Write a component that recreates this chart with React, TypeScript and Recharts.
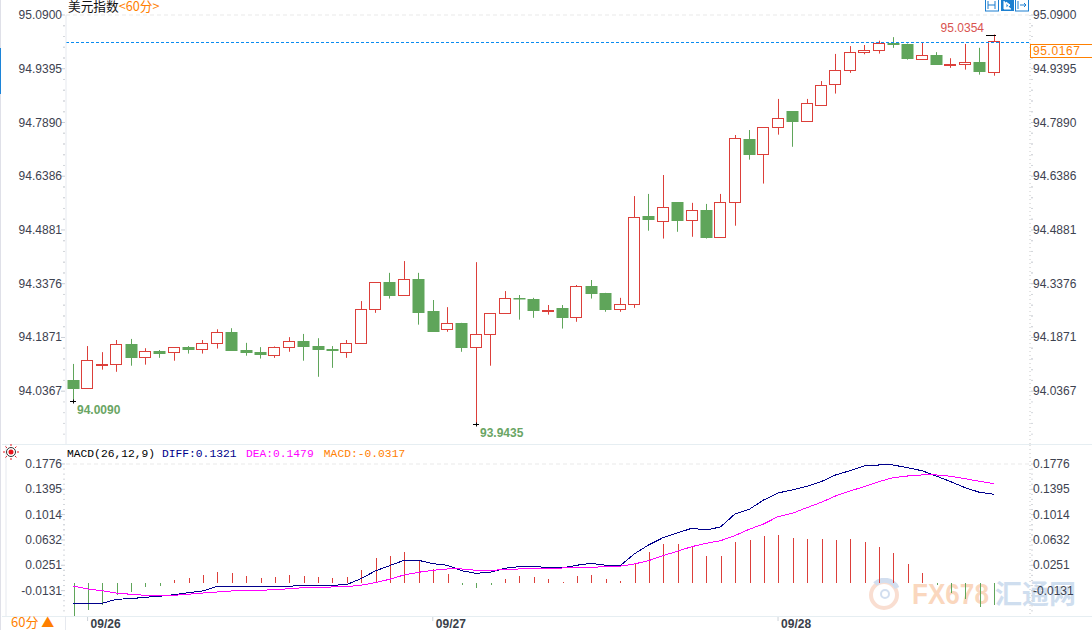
import {
  Bar,
  ComposedChart,
  Line,
  ReferenceDot,
  ReferenceLine,
  XAxis,
  YAxis,
} from "recharts";

const RED = "#dc3f3a";
const GREEN = "#5fa55a";
const ORANGE = "#ff8000";
const TICK_COLOR = "#3d4250";
const SANS = "'Liberation Sans', Arial, sans-serif";
const CJK = "'Noto Sans CJK SC', sans-serif";
const MONO = "'Liberation Mono', monospace";

const opens = [
  94.068, 94.045, 94.112, 94.112, 94.168, 94.132, 94.149, 94.146, 94.16, 94.154,
  94.171, 94.202, 94.152, 94.146, 94.139, 94.16, 94.177, 94.163, 94.155, 94.146,
  94.171, 94.266, 94.342, 94.305, 94.351, 94.261, 94.21, 94.228, 94.16, 94.196,
  94.255, 94.297, 94.295, 94.263, 94.27, 94.244, 94.331, 94.312, 94.266, 94.28,
  94.527, 94.512, 94.566, 94.515, 94.544, 94.468, 94.566, 94.743, 94.7, 94.776,
  94.821, 94.792, 94.837, 94.896, 94.935, 94.987, 94.991, 95.012, 95.009, 94.968,
  94.978, 94.952, 94.952, 94.958, 94.931,
];
const highs = [
  94.113, 94.163, 94.146, 94.18, 94.183, 94.157, 94.152, 94.16, 94.163, 94.18,
  94.21, 94.213, 94.172, 94.16, 94.162, 94.188, 94.197, 94.185, 94.163, 94.18,
  94.289, 94.342, 94.368, 94.401, 94.368, 94.292, 94.272, 94.228, 94.398, 94.255,
  94.317, 94.306, 94.298, 94.278, 94.278, 94.334, 94.348, 94.312, 94.298, 94.583,
  94.589, 94.642, 94.566, 94.564, 94.561, 94.589, 94.754, 94.768, 94.776, 94.855,
  94.821, 94.855, 94.905, 94.981, 95.003, 95.006, 95.018, 95.028, 95.01, 95.014,
  94.986, 94.969, 95.009, 94.998, 95.0354,
];
const lows = [
  94.009, 94.045, 94.097, 94.091, 94.108, 94.111, 94.13, 94.122, 94.142, 94.142,
  94.156, 94.15, 94.136, 94.128, 94.13, 94.147, 94.122, 94.077, 94.102, 94.13,
  94.171, 94.256, 94.296, 94.305, 94.223, 94.203, 94.203, 94.147, 93.9435, 94.108,
  94.255, 94.237, 94.242, 94.251, 94.212, 94.231, 94.296, 94.259, 94.259, 94.27,
  94.486, 94.464, 94.483, 94.469, 94.464, 94.468, 94.5, 94.685, 94.618, 94.755,
  94.721, 94.792, 94.837, 94.87, 94.928, 94.98, 94.982, 94.998, 94.965, 94.968,
  94.951, 94.942, 94.937, 94.923, 94.92,
];
const closes = [
  94.044, 94.123, 94.112, 94.168, 94.13, 94.148, 94.142, 94.16, 94.153, 94.171,
  94.202, 94.15, 94.144, 94.139, 94.16, 94.176, 94.161, 94.153, 94.15, 94.171,
  94.266, 94.342, 94.304, 94.35, 94.256, 94.203, 94.227, 94.158, 94.196, 94.255,
  94.297, 94.295, 94.262, 94.265, 94.242, 94.33, 94.31, 94.265, 94.28, 94.524,
  94.517, 94.552, 94.514, 94.543, 94.466, 94.566, 94.745, 94.699, 94.776, 94.801,
  94.791, 94.843, 94.893, 94.935, 94.986, 94.991, 95.011, 95.007, 94.968, 94.977,
  94.951, 94.954, 94.958, 94.931, 95.0167,
];
const diffValues = [
  -0.0322, -0.0322, -0.0322, -0.0261, -0.0252, -0.0231, -0.0216, -0.0192, -0.0162, -0.0136,
  -0.0066, -0.0076, -0.0076, -0.0076, -0.0076, -0.0066, -0.005, -0.005, -0.005, -0.0041,
  0.0049, 0.0165, 0.0245, 0.0326, 0.0326, 0.0275, 0.0251, 0.0169, 0.013, 0.0145,
  0.0205, 0.023, 0.023, 0.022, 0.021, 0.0251, 0.0281, 0.0251, 0.024, 0.0421,
  0.0556, 0.0666, 0.0737, 0.0808, 0.0782, 0.0828, 0.1023, 0.1094, 0.1234, 0.134,
  0.1385, 0.144, 0.151, 0.1611, 0.1675, 0.1746, 0.1761, 0.1761, 0.172, 0.1675,
  0.1595, 0.151, 0.142, 0.135, 0.1321,
];
const deaValues = [
  -0.0061, -0.0106, -0.0132, -0.0167, -0.0186, -0.0201, -0.0201, -0.0201, -0.0186, -0.0167,
  -0.0152, -0.0136, -0.0132, -0.0126, -0.0117, -0.0102, -0.0087, -0.0081, -0.0076, -0.0072,
  -0.005, -0.0011, 0.004, 0.0105, 0.0145, 0.0175, 0.0195, 0.0195, 0.0175, 0.0175,
  0.0185, 0.0195, 0.02, 0.0205, 0.021, 0.021, 0.022, 0.023, 0.0236, 0.027,
  0.032, 0.0395, 0.0462, 0.0531, 0.0582, 0.0621, 0.0697, 0.0793, 0.0873, 0.0983,
  0.1034, 0.1118, 0.1199, 0.1294, 0.137, 0.1434, 0.151, 0.157, 0.1595, 0.1611,
  0.1611, 0.1591, 0.1555, 0.1516, 0.1479,
];
const macdValues = [
  -0.0485, -0.0407, -0.033, -0.0173, -0.0125, -0.0055, -0.0035, 0.0045, 0.0075, 0.012,
  0.018, 0.015, 0.0105, 0.0075, 0.009, 0.012, 0.0105, 0.009, 0.0075, 0.009,
  0.021, 0.0376, 0.042, 0.048, 0.036, 0.022, 0.0135, -0.003, -0.0075, -0.003,
  0.006, 0.0105, 0.009, 0.006, 0.0015, 0.0105, 0.012, 0.006, 0.003, 0.031,
  0.048, 0.06, 0.0587, 0.056, 0.042, 0.042, 0.063, 0.065, 0.0708, 0.0723,
  0.0678, 0.0663, 0.0663, 0.0648, 0.0663, 0.0617, 0.0542, 0.0452, 0.03, 0.015,
  -0.003, -0.015, -0.024, -0.036, -0.0317,
];

const priceTicks = [95.09, 94.9395, 94.789, 94.6386, 94.4881, 94.3376, 94.1871, 94.0367];
const macdTicks = [0.1776, 0.1395, 0.1014, 0.0632, 0.0251, -0.0131];
const lastPrice = 95.0167;

// hourly slots, the 09/26 session opens on the second candle
const times = opens.map((_, i) => {
  const h = i + 23;
  const day = 25 + Math.floor(h / 24);
  return `09/${day} ${String(h % 24).padStart(2, "0")}:00`;
});

const candles = times.map((time, i) => ({
  time,
  open: opens[i],
  close: closes[i],
  high: highs[i],
  low: lows[i],
  range: [lows[i], highs[i]],
}));

const macdRows = times.map((time, i) => ({
  time,
  diff: diffValues[i],
  dea: deaValues[i],
  macd: macdValues[i],
}));

const withMinor = (majors: number[], step: number) => {
  const out: number[] = [];
  majors.forEach((m) => {
    for (let k = -4; k <= 4; k++) out.push(Number((m + (k * step) / 5).toFixed(5)));
  });
  return Array.from(new Set(out));
};
const priceAxisTicks = withMinor(priceTicks, 0.15045).filter((v) => v <= 95.09 && v > 93.9);
const macdAxisTicks = withMinor(macdTicks, 0.0381).filter((v) => v <= 0.1776 && v > -0.045);

const AXIS_L = 66;
const AXIS_R = 1030;
const X_PAD = { left: 0, right: 29 };

function Candle(props: any) {
  const { x, y, width, height, payload } = props;
  const { open, close, high, low } = payload;
  const perUnit = height / (high - low);
  const yOf = (v: number) => y + (high - v) * perUnit;
  const cx = Math.round(x + width / 2) + 0.5;
  const up = close >= open;
  const top = Math.round(yOf(Math.max(open, close))) + 0.5;
  const bottom = Math.round(yOf(Math.min(open, close))) + 0.5;
  const color = up ? RED : GREEN;
  return (
    <g>
      <line x1={cx} x2={cx} y1={y} y2={y + height} stroke={color} strokeWidth={1} />
      {up ? (
        <rect x={cx - 6} y={top} width={11} height={Math.max(bottom - top, 1)} fill="#fff" stroke={color} />
      ) : (
        <rect x={cx - 6} y={top - 0.5} width={12} height={Math.max(bottom - top, 1.5)} fill={color} />
      )}
    </g>
  );
}

function HistBar(props: any) {
  const { x, y, width, height, payload } = props;
  const top = Math.min(y, y + height);
  return (
    <rect
      x={Math.round(x + width / 2)}
      y={top}
      width={1}
      height={Math.abs(height)}
      fill={payload.macd >= 0 ? RED : GREEN}
      shapeRendering="crispEdges"
    />
  );
}

function AxisTick(props: any) {
  const { y, payload, orientation, labels } = props;
  const major = labels.includes(payload.value);
  const right = orientation === "right";
  const edge = right ? AXIS_R + 1 : AXIS_L - 1;
  const len = major ? 4 : 2;
  return (
    <g>
      <line
        x1={edge}
        x2={right ? edge + len : edge - len}
        y1={y}
        y2={y}
        stroke={major ? "#c9ced6" : "#d4d7dc"}
      />
      {major && (
        <text
          x={right ? 1033 : 62}
          y={y + 4}
          textAnchor={right ? "start" : "end"}
          fontSize={12}
          fontFamily={SANS}
          fill={TICK_COLOR}
        >
          {payload.value.toFixed(4)}
        </text>
      )}
    </g>
  );
}

function DateTick(props: any) {
  const { x, payload } = props;
  return (
    <g>
      <line x1={x} x2={x} y1={171} y2={176} stroke="#ccd2d8" />
      <text x={x + 3} y={183} fontSize={12} fontWeight={700} fontFamily={SANS} fill="#3a3f4a">
        {payload.value.slice(0, 5)}
      </text>
    </g>
  );
}

// black marker plus the extreme value next to it
function Extreme(props: any) {
  const { cx, cy, value, side, color } = props;
  const px = Math.round(cx);
  const py = Math.round(cy) + 0.5;
  if (side === "high") {
    return (
      <g>
        <line x1={px - 8} x2={px + 2} y1={py} y2={py} stroke="#000" />
        <text x={px - 10} y={py - 3.5} textAnchor="end" fontSize={12} fontFamily={SANS} fill={color}>
          {value}
        </text>
      </g>
    );
  }
  return (
    <g>
      <line x1={px - 3} x2={px + 3} y1={py} y2={py} stroke="#000" />
      <line x1={px + 0.5} x2={px + 0.5} y1={py - 2} y2={py + 2} stroke="#000" />
      <text x={px + 4} y={py + 12} fontSize={12} fontFamily={SANS} fontWeight={700} fill={color}>
        {value}
      </text>
    </g>
  );
}

// last price line, snapped to a whole pixel row
function LastLine(props: any) {
  const { x1, x2, y1 } = props;
  const y = Math.round(y1) + 1.5;
  return <line x1={x1} x2={x2} y1={y} y2={y} stroke="#0a8cf0" strokeDasharray="3 2" />;
}

function PriceChart() {
  return (
    <ComposedChart
      width={1092}
      height={445}
      data={candles}
      margin={{ top: 15, right: 0, bottom: 0, left: 0 }}
      style={{ position: "absolute", left: 0, top: 0 }}
    >
      <XAxis dataKey="time" hide padding={X_PAD} />
      <YAxis
        yAxisId="left"
        width={AXIS_L}
        domain={[93.886, 95.09]}
        ticks={priceAxisTicks}
        interval={0}
        allowDataOverflow
        axisLine={{ stroke: "#e6e9ef" }}
        tickLine={false}
        tick={(p: any) => <AxisTick {...p} orientation="left" labels={priceTicks} />}
      />
      <YAxis
        yAxisId="right"
        orientation="right"
        width={62}
        domain={[93.886, 95.09]}
        ticks={priceAxisTicks}
        interval={0}
        allowDataOverflow
        axisLine={{ stroke: "#c8c8c8", strokeDasharray: "1 3" }}
        tickLine={false}
        tick={(p: any) => <AxisTick {...p} orientation="right" labels={priceTicks} />}
      />
      <ReferenceLine yAxisId="left" y={95.09} stroke="#e9e9e9" strokeDasharray="4 3" />
      <Bar yAxisId="left" dataKey="range" barSize={12} shape={Candle} isAnimationActive={false} />
      <ReferenceLine
        yAxisId="left"
        y={lastPrice}
        shape={(p: any) => <LastLine x1={p.x1} x2={p.x2} y1={p.y1} />}
      />
      <ReferenceDot
        yAxisId="left"
        x={times[64]}
        y={95.0354}
        shape={(p: any) => <Extreme {...p} side="high" value="95.0354" color="#d9534f" />}
      />
      <ReferenceDot
        yAxisId="left"
        x={times[0]}
        y={94.009}
        shape={(p: any) => <Extreme {...p} side="low" value="94.0090" color="#6aa564" />}
      />
      <ReferenceDot
        yAxisId="left"
        x={times[28]}
        y={93.9435}
        shape={(p: any) => <Extreme {...p} side="low" value="93.9435" color="#6aa564" />}
      />
    </ComposedChart>
  );
}

function MacdChart() {
  return (
    <ComposedChart
      width={1092}
      height={185}
      data={macdRows}
      margin={{ top: 0, right: 0, bottom: 0, left: 0 }}
      style={{ position: "absolute", left: 0, top: 445 }}
    >
      <XAxis
        dataKey="time"
        height={14}
        padding={X_PAD}
        ticks={[times[1], times[25], times[49]]}
        interval={0}
        axisLine={false}
        tickLine={false}
        tick={DateTick}
      />
      <YAxis
        yAxisId="left"
        width={AXIS_L}
        domain={[-0.0513, 0.2062]}
        ticks={macdAxisTicks}
        interval={0}
        allowDataOverflow
        axisLine={{ stroke: "#e6e9ef" }}
        tickLine={false}
        tick={(p: any) => <AxisTick {...p} orientation="left" labels={macdTicks} />}
      />
      <YAxis
        yAxisId="right"
        orientation="right"
        width={62}
        domain={[-0.0513, 0.2062]}
        ticks={macdAxisTicks}
        interval={0}
        allowDataOverflow
        axisLine={{ stroke: "#c8c8c8", strokeDasharray: "1 3" }}
        tickLine={false}
        tick={(p: any) => <AxisTick {...p} orientation="right" labels={macdTicks} />}
      />
      <YAxis yAxisId="hist" hide domain={[-0.049, 0.2085]} allowDataOverflow />
      <ReferenceLine yAxisId="left" y={0.1776} stroke="#e9e9e9" strokeDasharray="4 3" />
      <Bar yAxisId="hist" dataKey="macd" barSize={1} shape={HistBar} isAnimationActive={false} />
      <Line yAxisId="left" type="linear" dataKey="diff" stroke="#00008b" strokeWidth={1} shapeRendering="crispEdges" dot={false} isAnimationActive={false} />
      <Line yAxisId="left" type="linear" dataKey="dea" stroke="#ff00ff" strokeWidth={1} shapeRendering="crispEdges" dot={false} isAnimationActive={false} />
    </ComposedChart>
  );
}

const abs = (left: number, top: number, extra: any = {}) => ({
  position: "absolute" as const,
  left,
  top,
  whiteSpace: "nowrap" as const,
  ...extra,
});

function Watermark() {
  return (
    <>
      <svg width={36} height={34} style={abs(867, 578, { opacity: 0.45 })}>
        <circle cx={17} cy={17} r={13} fill="none" stroke="#f3b79a" strokeWidth={4} />
        <path d="M8 6a14 14 0 0 1 22 4" fill="none" stroke="#9db7dc" strokeWidth={5} />
        <circle cx={18} cy={16} r={4} fill="none" stroke="#9db7dc" strokeWidth={2} />
      </svg>
      <div
        style={abs(912, 577, {
          fontFamily: SANS,
          fontWeight: 700,
          fontSize: 30,
          lineHeight: "34px",
          color: "#f7b78a",
          opacity: 0.55,
          transform: "scaleX(0.87)",
          transformOrigin: "left center",
        })}
      >
        FX678
      </div>
      <div
        style={abs(995, 574, {
          fontFamily: CJK,
          fontWeight: 700,
          fontSize: 27,
          lineHeight: "38px",
          color: "#a9c4e2",
          opacity: 0.55,
        })}
      >
        汇通网
      </div>
    </>
  );
}

function Decorations() {
  return (
    <>
      <div style={abs(0, 0, { width: 1, height: 630, background: "#dfe0e8" })} />
      <div style={abs(0, 48, { width: 1, height: 46, background: "#1c84d8" })} />
      <div style={abs(2, 444, { width: 1090, height: 1, background: "#e6eef2" })} />
      <div style={abs(2, 616, { width: 1090, height: 1, background: "#e6eef2" })} />
      <div style={abs(65, 616, { width: 1, height: 14, background: "#e6e9ef" })} />

      <div style={abs(68, -3, { fontFamily: CJK, fontSize: 12.7, lineHeight: "18px", color: "#111" })}>
        美元指数<span style={{ color: ORANGE }}>&lt;60分&gt;</span>
      </div>

      <div
        style={abs(67, 447, {
          fontFamily: MONO,
          fontSize: 11.3,
          lineHeight: "15px",
          whiteSpace: "pre",
        })}
      >
        <span style={{ color: "#000" }}>MACD(26,12,9) </span>
        <span style={{ color: "#00008b", marginRight: 2.6 }}>DIFF:0.1321 </span>
        <span style={{ color: "#ff00ff", marginRight: 3.4 }}>DEA:0.1479 </span>
        <span style={{ color: ORANGE }}>MACD:-0.0317</span>
      </div>

      <div
        style={abs(1030, 44, {
          width: 60,
          height: 12,
          background: "#fff",
          border: `1px solid ${ORANGE}`,
          color: ORANGE,
          fontFamily: SANS,
          fontSize: 12,
          lineHeight: "12px",
          letterSpacing: 0.6,
          paddingLeft: 2,
          boxSizing: "content-box",
        })}
      >
        95.0167
      </div>

      <svg width={46} height={12} style={abs(985, 0)}>
        <rect x={0.5} y={-1} width={13} height={12} fill="#fff" stroke="#1c7fd0" />
        <rect x={16} y={-1} width={13} height={12} fill="#1c7fd0" />
        <rect x={30.5} y={-1} width={13} height={12} fill="#fff" stroke="#1c7fd0" />
        <path d="M3 1v8M10 1v8M3 5h7" stroke="#1c7fd0" fill="none" />
        <path d="M19 1v8h7M21 2l4 3-4 3z" stroke="#fff" fill="#fff" />
        <path d="M33 1v8M35 5h6M39 3l2 2-2 2" stroke="#1c7fd0" fill="none" />
      </svg>

      <svg width={20} height={20} style={abs(2, 443)}>
        <circle cx={9} cy={9} r={2.5} fill="#e8141c" />
        <circle cx={9} cy={9} r={4.5} fill="none" stroke="#333" />
        <path
          d="M9 1v2M9 15v2M1 9h2M15 9h2M3.5 3.5l1.4 1.4M13 13l1.4 1.4M3.5 14.5l1.4-1.4M13 5l1.4-1.4"
          stroke="#e8141c"
        />
      </svg>

      <div style={abs(11, 614, { fontFamily: CJK, fontSize: 13, lineHeight: "16px", color: ORANGE })}>
        60分 ▲
      </div>
    </>
  );
}

export default function App() {
  return (
    <div
      style={{
        position: "absolute",
        left: 0,
        top: 0,
        width: 1092,
        height: 630,
        overflow: "hidden",
        background: "#fff",
      }}
    >
      <Watermark />
      <PriceChart />
      <MacdChart />
      <Decorations />
    </div>
  );
}
